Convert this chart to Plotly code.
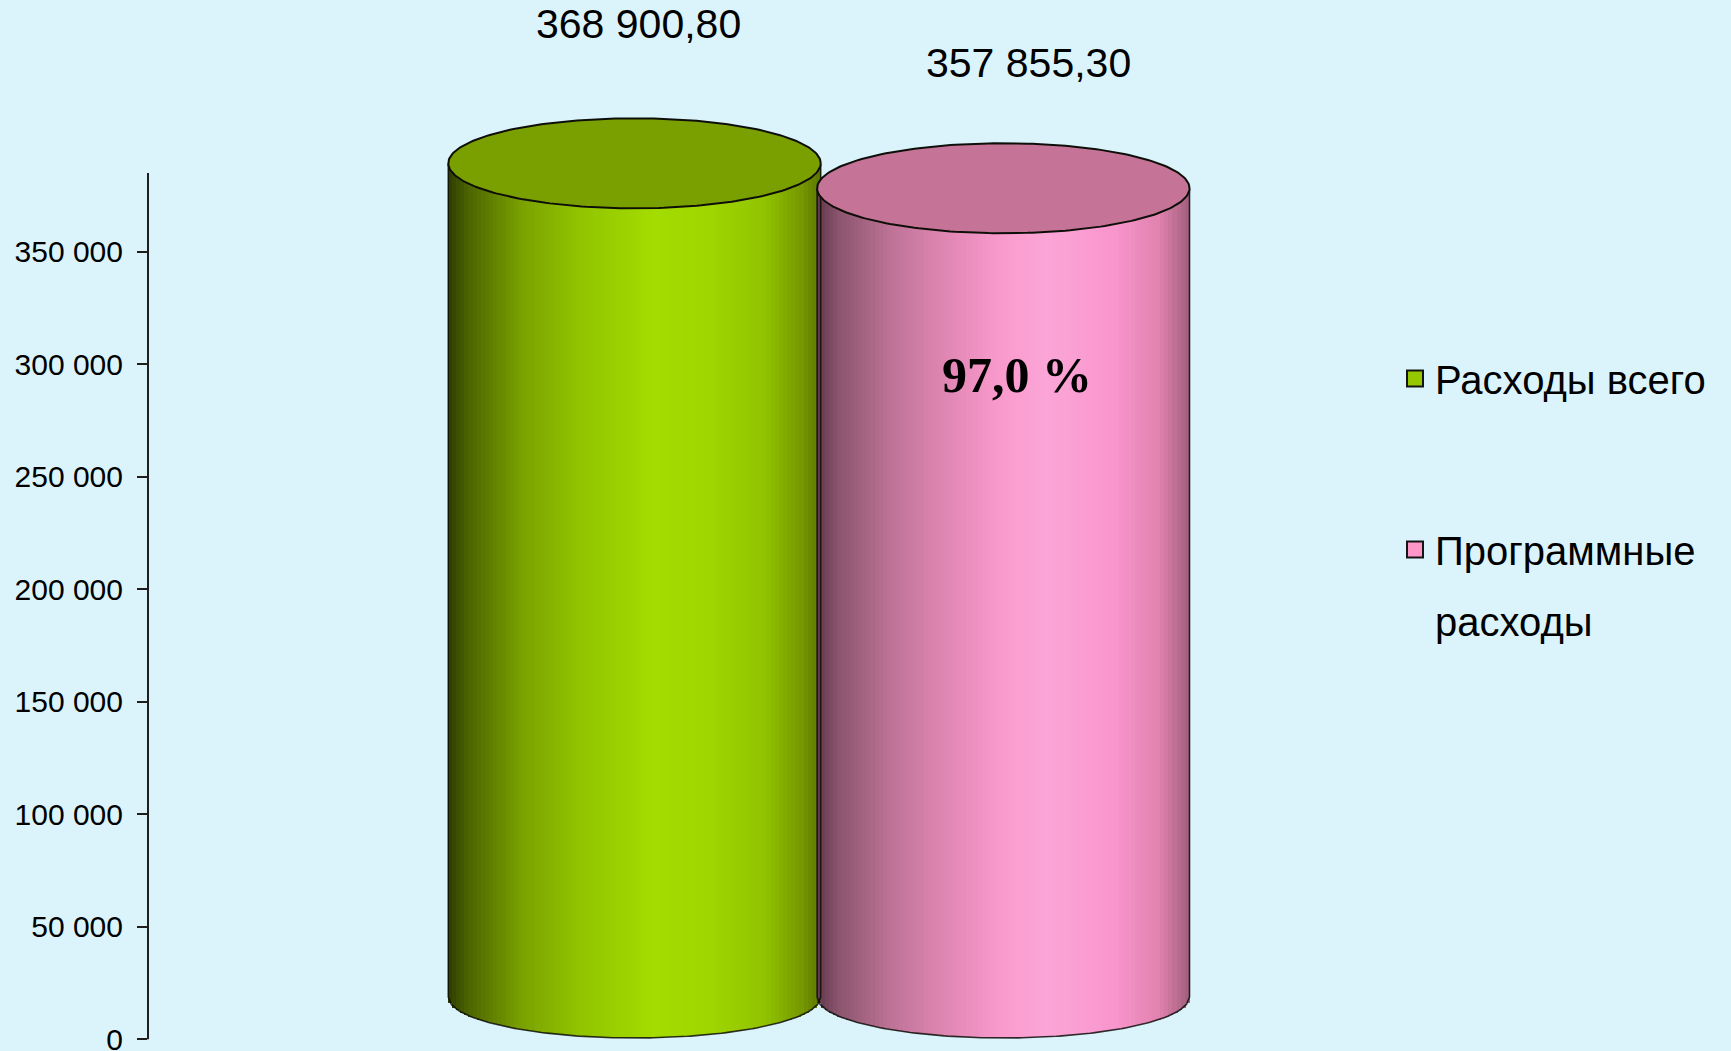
import numpy as np
import plotly.graph_objects as go

# ---------------- data ----------------
SERIES = ["Расходы всего",
          "Программные<br><span style='baseline-shift:-19px'>расходы</span><br>\u00a0"]
VALUES = [368900.80, 357855.30]
TICK_VALS = [0, 50000, 100000, 150000, 200000, 250000, 300000, 350000]
TICK_TEXT = ["0", "50 000", "100 000", "150 000", "200 000", "250 000", "300 000", "350 000"]

# ---------------- style ----------------
W, H = 1731, 1051
BG = "rgb(219,244,252)"
FONT = "Liberation Sans, Arial, sans-serif"
SERIF = "Liberation Serif, Times New Roman, serif"

PLOT_L, PLOT_R, PLOT_T, PLOT_B = 148, 1300, 100, 1051

# visible value axis geometry (pixels)
Y_ZERO_PX = 1039.3
Y_PPU = 787.6 / 350000.0
# cylinder (perspective) axis geometry
Y2_ZERO_PX = 997.0
Y2_PPU = 0.00226
# x geometry
X0_PX = 634.5
X_STEP_PX = 368.8
RADIUS_PX = 186.2
TOP_HALF_PX = 45.0
BOT_HALF_PX = 41.0

GRADS = [
    [(0.00, (45, 60, 0)), (0.06, (78, 103, 0)), (0.20, (122, 162, 0)), (0.35, (145, 195, 0)),
     (0.55, (163, 220, 0)), (0.70, (160, 214, 0)), (0.85, (145, 195, 0)), (0.95, (118, 152, 0)),
     (1.00, (92, 118, 0))],
    [(0.00, (95, 55, 75)), (0.06, (140, 85, 110)), (0.20, (190, 115, 150)), (0.35, (225, 135, 180)),
     (0.50, (250, 155, 205)), (0.62, (252, 165, 215)), (0.80, (248, 150, 205)), (0.92, (225, 130, 175)),
     (1.00, (160, 95, 125))],
]
TOP_COLORS = ["rgb(122,160,0)", "rgb(198,115,152)"]
LEGEND_COLORS = ["rgb(150,200,0)", "rgb(255,150,200)"]
LABEL_SHIFTS = [(4, 139), (25, 125)]
N_SLICES = 90


def grad_color(stops, t):
    for (t0, c0), (t1, c1) in zip(stops[:-1], stops[1:]):
        if t0 <= t <= t1:
            f = (t - t0) / (t1 - t0) if t1 > t0 else 0
            c = [round(a + (b - a) * f) for a, b in zip(c0, c1)]
            return "rgb(%d,%d,%d)" % tuple(c)
    return "rgb(%d,%d,%d)" % stops[-1][1]


def fmt_value(v):
    return f"{v:,.2f}".replace(",", " ").replace(".", ",")


plot_w = PLOT_R - PLOT_L
x_range = [(PLOT_L - X0_PX) / X_STEP_PX, (PLOT_R - X0_PX) / X_STEP_PX]
y_range = [(Y_ZERO_PX - PLOT_B) / Y_PPU, (Y_ZERO_PX - PLOT_T) / Y_PPU]
y2_range = [(Y2_ZERO_PX - PLOT_B) / Y2_PPU, (Y2_ZERO_PX - PLOT_T) / Y2_PPU]
r = RADIUS_PX / X_STEP_PX
ht = TOP_HALF_PX / Y2_PPU
hb = BOT_HALF_PX / Y2_PPU

fig = go.Figure()

# cylinder bodies (gradient as slices)
for i, v in enumerate(VALUES):
    cx = i
    w = 2 * r / N_SLICES
    xs = cx - r + (np.arange(N_SLICES) + 0.5) * w
    u = np.clip((xs - cx) / r, -1, 1)
    base = -hb * np.sqrt(1 - u ** 2)
    colors = [grad_color(GRADS[i], (k + 0.5) / N_SLICES) for k in range(N_SLICES)]
    fig.add_trace(go.Bar(
        x=xs, y=v - base, base=base, width=w * 1.25, yaxis="y2",
        marker=dict(color=colors, line=dict(width=0)),
        showlegend=False, hoverinfo="skip",
    ))

# outlines and top ellipses
th = np.linspace(0, 2 * np.pi, 241)
for i, v in enumerate(VALUES):
    cx = i
    ua = np.linspace(-1, 1, 121)
    ox = np.concatenate([[cx - r, cx - r], cx + r * ua, [cx + r, cx + r]])
    oy = np.concatenate([[v, 0], -hb * np.sqrt(1 - ua ** 2), [0, v]])
    fig.add_trace(go.Scatter(
        x=ox, y=oy, yaxis="y2", mode="lines",
        line=dict(color="rgba(15,15,10,0.85)", width=1.6),
        showlegend=False, hoverinfo="skip",
    ))
    fig.add_trace(go.Scatter(
        x=cx + r * np.cos(th), y=v + ht * np.sin(th), yaxis="y2", mode="lines",
        fill="toself", fillcolor=TOP_COLORS[i],
        line=dict(color="rgb(15,15,10)", width=2),
        showlegend=False, hoverinfo="skip",
    ))

# legend entries
for i, name in enumerate(SERIES):
    fig.add_trace(go.Scatter(
        x=[None], y=[None], mode="markers", name=name, legendgroup="g%d" % i,
        marker=dict(symbol="square", size=22, color=LEGEND_COLORS[i],
                    line=dict(color="rgb(20,20,20)", width=2)),
    ))

annotations = []
for i, v in enumerate(VALUES):
    annotations.append(dict(
        x=i, y=v, xref="x", yref="y2", text=fmt_value(v), showarrow=False,
        xshift=LABEL_SHIFTS[i][0], yshift=LABEL_SHIFTS[i][1],
        xanchor="center", yanchor="middle",
        font=dict(family=FONT, size=41, color="black"),
    ))
ratio = VALUES[1] / VALUES[0] * 100
annotations.append(dict(
    x=(1016.5 - PLOT_L) / plot_w, y=(PLOT_B - 375) / (PLOT_B - PLOT_T),
    xref="paper", yref="paper", showarrow=False, xanchor="center", yanchor="middle",
    text="<b>" + f"{ratio:.1f}".replace(".", ",") + " %</b>",
    font=dict(family=SERIF, size=50, color="black"),
))

fig.update_layout(
    width=W, height=H,
    margin=dict(l=PLOT_L, r=W - PLOT_R, t=PLOT_T, b=H - PLOT_B, pad=0, autoexpand=False),
    paper_bgcolor=BG, plot_bgcolor=BG,
    barmode="overlay", bargap=0,
    hovermode=False,
    xaxis=dict(range=x_range, visible=False, fixedrange=True, automargin=False),
    yaxis=dict(
        range=y_range, tickvals=TICK_VALS, ticktext=TICK_TEXT,
        ticks="outside", ticklen=10, tickwidth=2, tickcolor="rgb(30,30,30)",
        showgrid=False, zeroline=False, showline=False, automargin=False,
        tickfont=dict(family=FONT, size=30, color="black"),
        ticklabelstandoff=8, ticklabeloverflow="allow", fixedrange=True,
    ),
    yaxis2=dict(range=y2_range, overlaying="y", visible=False, fixedrange=True, automargin=False),
    shapes=[dict(type="line", xref="paper", yref="y", x0=0, x1=0, y0=0, y1=385000,
                 line=dict(color="rgb(30,30,30)", width=2))],
    annotations=annotations,
    showlegend=True,
    legend=dict(
        x=(1395 - PLOT_L) / plot_w, xanchor="left",
        y=(PLOT_B - 346) / (PLOT_B - PLOT_T), yanchor="top",
        bgcolor="rgba(0,0,0,0)", borderwidth=0,
        font=dict(family=FONT, size=40, color="black"),
        tracegroupgap=116, valign="top",
    ),
)

fig.write_html("out.html", include_plotlyjs=True, config={"displayModeBar": False},
               post_script="document.body.style.margin='0';document.body.style.overflow='hidden';")
